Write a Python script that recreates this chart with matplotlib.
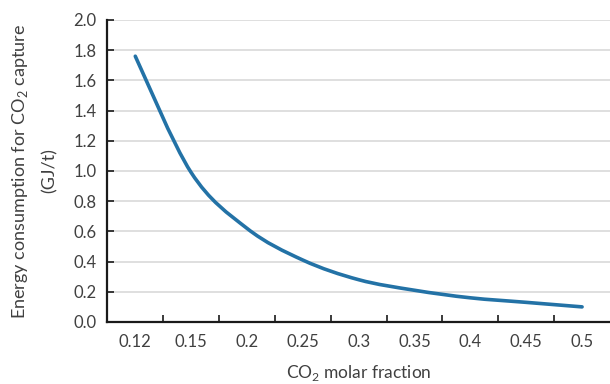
import numpy as np
import matplotlib
matplotlib.use("Agg")
import matplotlib.pyplot as plt
from matplotlib.path import Path
from matplotlib.patches import PathPatch

# data
fractions = ["0.12", "0.15", "0.2", "0.25", "0.3", "0.35", "0.4", "0.45", "0.5"]
energy = [1.76, 0.99, 0.62, 0.41, 0.28, 0.21, 0.16, 0.13, 0.10]

plt.rcParams["font.family"] = ["Lato", "DejaVu Sans"]
plt.rcParams["mathtext.fontset"] = "custom"
plt.rcParams["mathtext.rm"] = "Lato"

line_color = "#2372a6"
text_color = "#404040"

fig = plt.figure(figsize=(6.1, 3.84), dpi=100)
ax = fig.add_axes([0.176, 0.1615, 0.824, 0.7865])

# smoothed line like Excel: cubic bezier through the points
x = np.arange(len(fractions), dtype=float)
y = np.array(energy)
pts = np.column_stack([x, y])
verts = [pts[0]]
codes = [Path.MOVETO]
n = len(pts)
for i in range(n - 1):
    p0 = pts[i - 1] if i > 0 else pts[i]
    p1 = pts[i]
    p2 = pts[i + 1]
    p3 = pts[i + 2] if i + 2 < n else pts[i + 1]
    c1 = p1 + (p2 - p0) / 6
    c2 = p2 - (p3 - p1) / 6
    verts += [c1, c2, p2]
    codes += [Path.CURVE4] * 3
ax.add_patch(PathPatch(Path(verts, codes), facecolor="none", edgecolor=line_color,
                       lw=2.6, capstyle="round", zorder=3))

ax.set_xlim(-0.5, len(fractions) - 0.5)
ax.set_ylim(0, 2.0)
ax.set_yticks(np.arange(0, 2.01, 0.2))
ax.set_yticklabels([f"{v:.1f}" for v in np.arange(0, 2.01, 0.2)])
ax.set_xticks(x)
ax.set_xticklabels(fractions)
ax.set_xticks(np.arange(0.5, len(fractions) - 1, 1.0), minor=True)

ax.grid(axis="y", color="#d9d9d9", lw=1.2, zorder=0)
ax.set_axisbelow(True)

for s in ["top", "right"]:
    ax.spines[s].set_visible(False)
for s in ["left", "bottom"]:
    ax.spines[s].set_color("#1a1a1a")
    ax.spines[s].set_linewidth(1.6)

ax.tick_params(axis="x", which="major", length=0, pad=9, labelsize=12, labelcolor=text_color)
ax.tick_params(axis="x", which="minor", direction="in", length=5, width=1.2, color="#1a1a1a")
ax.tick_params(axis="y", direction="in", length=5, width=1.2, color="#1a1a1a",
               pad=8, labelsize=12, labelcolor=text_color)

ax.set_xlabel(r"CO$_\mathregular{2}$ molar fraction", fontsize=12.5, color=text_color, labelpad=9)
ax.set_ylabel("Energy consumption for CO$_\\mathregular{2}$ capture\n(GJ/t)",
              fontsize=13, color=text_color, labelpad=11, linespacing=1.9)

fig.savefig("out.png", dpi=100)
